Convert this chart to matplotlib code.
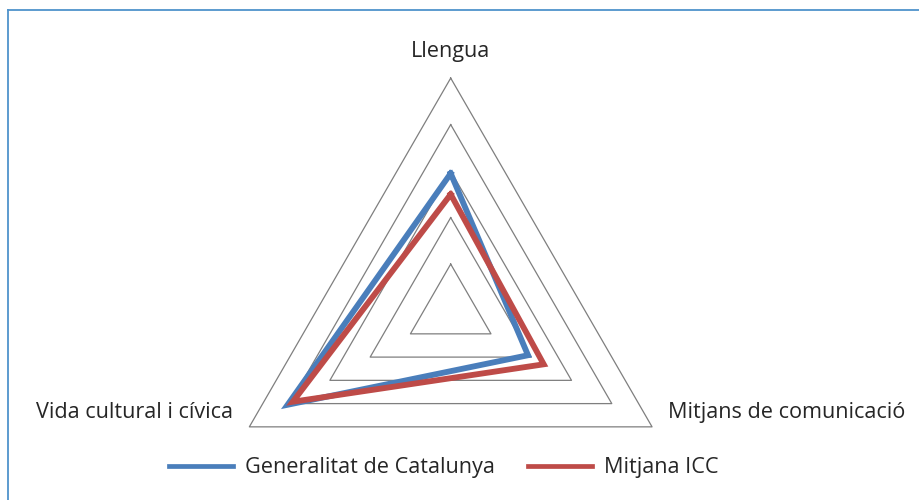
import numpy as np
import matplotlib
matplotlib.use("Agg")
import matplotlib.pyplot as plt
from matplotlib.lines import Line2D

plt.rcParams['font.family'] = ['Open Sans', 'DejaVu Sans']

# data (grid = 5 rings)
categories = ['Llengua', 'Mitjans de comunicació', 'Vida cultural i cívica']
generalitat = [2.95, 1.92, 4.05]
mitjana = [2.5, 2.31, 3.92]
series_names = ['Generalitat de Catalunya', 'Mitjana ICC']
rings = [1, 2, 3, 4, 5]

blue = '#4A7EBB'
red = '#BE4B48'
grid_col = '#7F7F7F'
txt_col = '#262626'

# axis angles: first on top, then clockwise
angles = np.deg2rad(90 - 120 * np.arange(len(categories)))


def to_xy(vals):
    vals = np.asarray(vals, dtype=float)
    x = vals * np.cos(angles)
    y = vals * np.sin(angles)
    return np.append(x, x[0]), np.append(y, y[0])


W, H = 919, 500
fig = plt.figure(figsize=(W / 100, H / 100), dpi=100)
ax = fig.add_axes([0, 0, 1, 1])

# pixel geometry of the reference: centre and px per unit
cx, cy, ppu = 450.7, 310.6, 46.5
ax.set_xlim(-cx / ppu, (W - cx) / ppu)
ax.set_ylim(-(H - cy) / ppu, cy / ppu)
ax.axis('off')

for r in rings:
    gx, gy = to_xy([r] * len(categories))
    ax.plot(gx, gy, color=grid_col, lw=0.9, zorder=1)

bx, by = to_xy(generalitat)
ax.plot(bx, by, color=blue, lw=4.2, solid_joinstyle='miter', zorder=3)
rx, ry = to_xy(mitjana)
ax.plot(rx, ry, color=red, lw=4.2, solid_joinstyle='miter', zorder=4)

# category labels
fs = 15.6
ax.text(0, 5.46, categories[0], ha='center', va='baseline', fontsize=fs, color=txt_col)
ax.text(4.67, -2.30, categories[1], ha='left', va='baseline', fontsize=fs, color=txt_col)
ax.text(-4.68, -2.32, categories[2], ha='right', va='baseline', fontsize=fs, color=txt_col)

handles = [Line2D([], [], color=blue, lw=3.4), Line2D([], [], color=red, lw=3.4)]
leg = fig.legend(handles, series_names, loc='center left', bbox_to_anchor=(158 / W, 1 - 468 / H),
                 ncol=2, frameon=False, fontsize=fs, handlelength=2.95, borderpad=0,
                 handletextpad=0.55, columnspacing=1.55)
for t in leg.get_texts():
    t.set_color(txt_col)

# chart border (top and left visible)
fig.add_artist(Line2D([8 / W, 1], [1 - 10 / H, 1 - 10 / H], color='#4F93CC', lw=1.3,
                      transform=fig.transFigure))
fig.add_artist(Line2D([8 / W, 8 / W], [0, 1 - 10 / H], color='#4F93CC', lw=1.3,
                      transform=fig.transFigure))

fig.savefig('out.png', dpi=100)
